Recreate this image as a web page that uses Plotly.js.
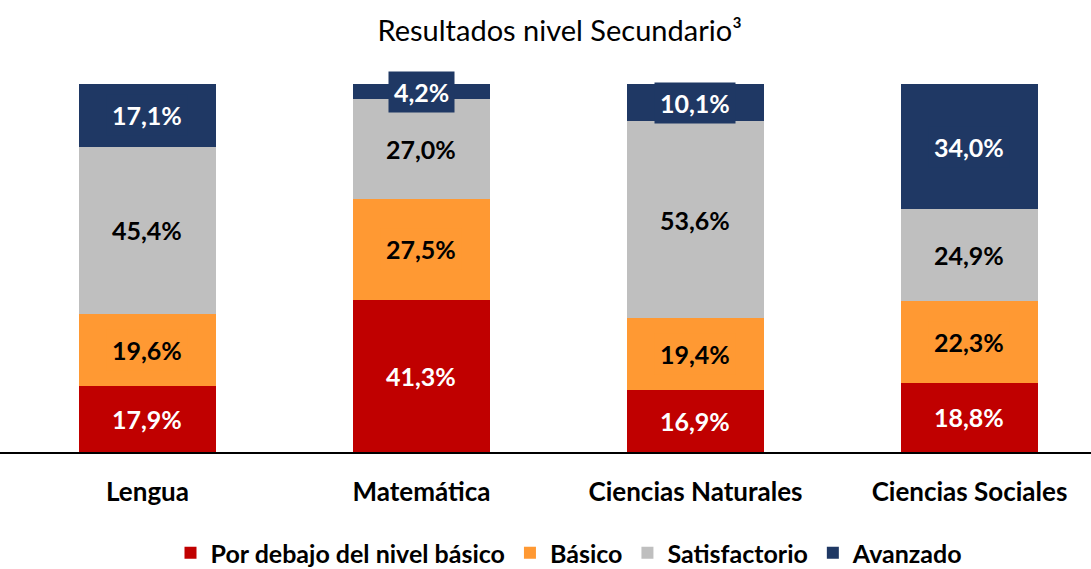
<!DOCTYPE html>
<html>
<head>
<meta charset="utf-8">
<script src="https://cdn.plot.ly/plotly-3.0.1.min.js"></script>
<style>html,body{margin:0;padding:0;background:#fff;}#chart{width:1091px;height:569px;}</style>
</head>
<body>
<div id="chart"></div>
<script>
const categories = ["Lengua", "Matemática", "Ciencias Naturales", "Ciencias Sociales"];
const seriesNames = ["Por debajo del nivel básico", "Básico", "Satisfactorio", "Avanzado"];
const porDebajo = [17.9, 41.3, 16.9, 18.8];
const basico = [19.6, 27.5, 19.4, 22.3];
const satisfactorio = [45.4, 27.0, 53.6, 24.9];
const avanzado = [17.1, 4.2, 10.1, 34.0];
const colors = ["#C00000", "#FF9933", "#BFBFBF", "#1F3864"];
const labelColors = ["#FFFFFF", "#000000", "#000000", "#FFFFFF"];

const FONT = "Lato, 'Open Sans', sans-serif";
const series = [porDebajo, basico, satisfactorio, avanzado];

const traces = series.map((vals, i) => ({
  type: "bar",
  name: seriesNames[i],
  x: categories,
  y: vals,
  width: 0.5,
  marker: {color: colors[i], line: {width: 0}},
  hoverinfo: "skip"
}));

const annotations = [];
categories.forEach((cat, c) => {
  let base = 0;
  series.forEach((vals, i) => {
    const v = vals[c];
    annotations.push({
      x: cat, y: base + v / 2, xref: "x", yref: "y",
      text: "<b>" + v.toFixed(1).replace(".", ",") + "%</b>",
      showarrow: false,
      font: {family: FONT, size: 25, color: labelColors[i]},
      bgcolor: colors[i],
      borderpad: 5,
      xanchor: "center", yanchor: "middle"
    });
    base += v;
  });
});

const layout = {
  width: 1091, height: 569,
  margin: {l: 0, r: 0, t: 84, b: 117, pad: 0, autoexpand: false},
  paper_bgcolor: "#ffffff", plot_bgcolor: "#ffffff",
  barmode: "stack",
  bargap: 0.5,
  showlegend: true,
  title: {
    text: "Resultados nivel Secundario³",
    font: {family: FONT, size: 29, color: "#000"},
    x: 0.513, xanchor: "center", xref: "paper",
    y: 1 - 31 / 569, yanchor: "middle", yref: "container"
  },
  xaxis: {
    type: "category",
    range: [-0.5383, 3.4435],
    showline: true, linecolor: "#000", linewidth: 1.5,
    showgrid: false, zeroline: false,
    ticks: "", ticklabelstandoff: 16,
    tickfont: {family: FONT, size: 26, color: "#000", weight: "bold"},
    fixedrange: true
  },
  yaxis: {
    range: [0, 100],
    visible: false, showgrid: false, zeroline: false,
    fixedrange: true
  },
  legend: {
    orientation: "h",
    x: 0.522, xanchor: "center", xref: "paper",
    y: -(553 - 452) / 368, yanchor: "middle",
    font: {family: FONT, size: 25, color: "#000", weight: "bold"},
    itemwidth: 30, tracegroupgap: 0,
    traceorder: "normal"
  },
  annotations: annotations
};

Plotly.newPlot("chart", traces, layout, {staticPlot: true, displayModeBar: false});
</script>
</body>
</html>
